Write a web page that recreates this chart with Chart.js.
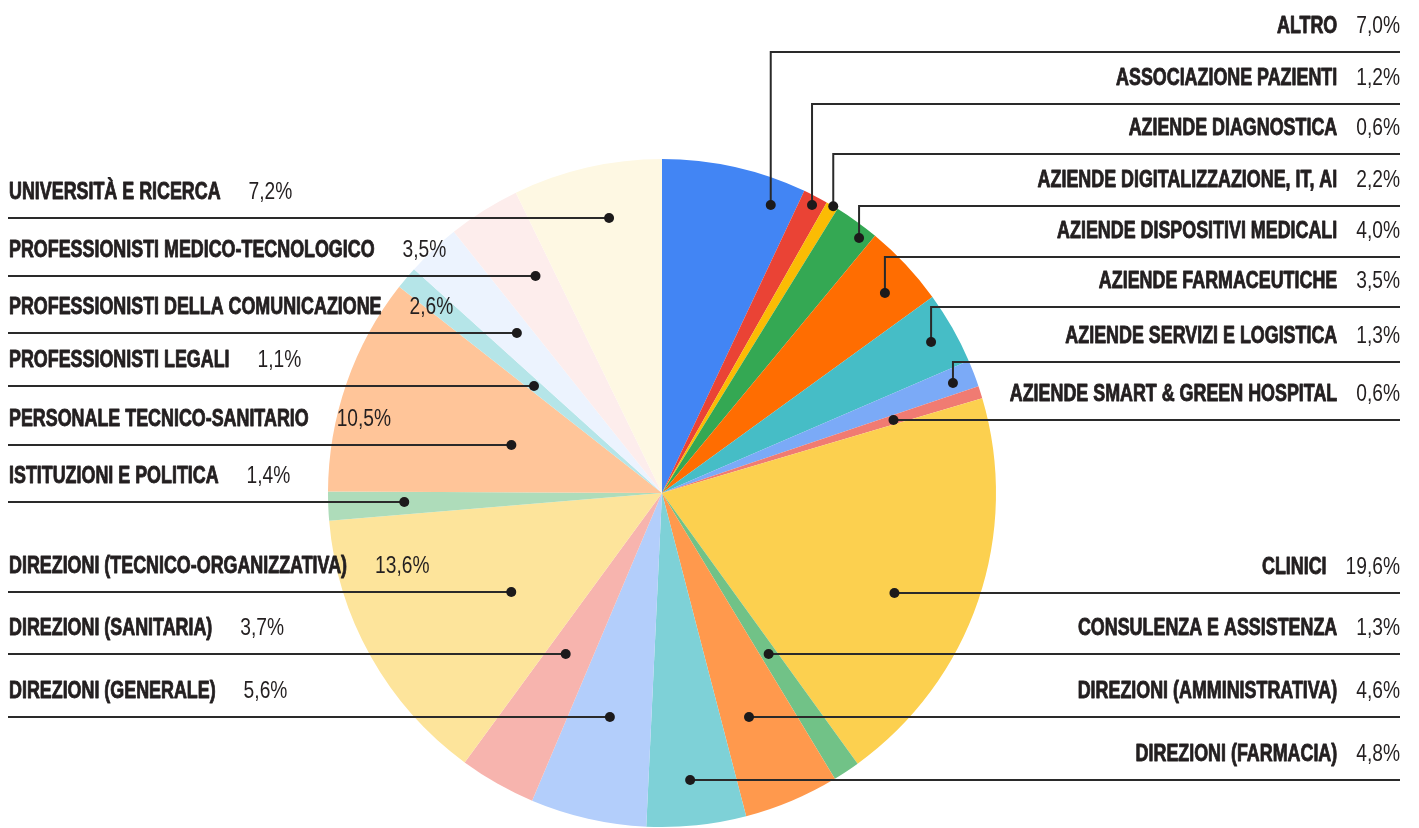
<!DOCTYPE html>
<html lang="it">
<head>
<meta charset="utf-8">
<title>Partecipanti per categoria</title>
<script src="https://cdn.jsdelivr.net/npm/chart.js@4.4.1/dist/chart.umd.min.js"></script>
<style>
  html, body { margin: 0; padding: 0; background: #fff; }
  #wrap { width: 1419px; height: 828px; }
</style>
</head>
<body>
<div id="wrap"><canvas id="chart" width="1419" height="828"></canvas></div>
<script>
/* ---------- dati ---------- */
const categories = [
  'ALTRO',
  'ASSOCIAZIONE PAZIENTI',
  'AZIENDE DIAGNOSTICA',
  'AZIENDE DIGITALIZZAZIONE, IT, AI',
  'AZIENDE DISPOSITIVI MEDICALI',
  'AZIENDE FARMACEUTICHE',
  'AZIENDE SERVIZI E LOGISTICA',
  'AZIENDE SMART & GREEN HOSPITAL',
  'CLINICI',
  'CONSULENZA E ASSISTENZA',
  'DIREZIONI (AMMINISTRATIVA)',
  'DIREZIONI (FARMACIA)',
  'DIREZIONI (GENERALE)',
  'DIREZIONI (SANITARIA)',
  'DIREZIONI (TECNICO-ORGANIZZATIVA)',
  'ISTITUZIONI E POLITICA',
  'PERSONALE TECNICO-SANITARIO',
  'PROFESSIONISTI LEGALI',
  'PROFESSIONISTI DELLA COMUNICAZIONE',
  'PROFESSIONISTI MEDICO-TECNOLOGICO',
  'UNIVERSITÀ E RICERCA'
];
const values = [7.0, 1.2, 0.6, 2.2, 4.0, 3.5, 1.3, 0.6, 19.6, 1.3, 4.6, 4.8, 5.6, 3.7, 13.6, 1.4, 10.5, 1.1, 2.6, 3.5, 7.2];
const colors = [
  '#4285F4', '#EA4335', '#FBBC04', '#34A853', '#FF6D01', '#46BDC6', '#7BAAF7',
  '#F07B72', '#FCD04F', '#71C287', '#FF994D', '#7ED1D7', '#B3CEFB', '#F7B4AE',
  '#FDE49B', '#AEDCBA', '#FFC599', '#B5E5E8', '#ECF3FE', '#FDEDEC', '#FEF8E3'
];

/* ---------- impaginazione etichette ---------- */
// lato, quota della riga, quota del pallino, posizione del pallino nella fetta (0..1)
const labelSide = ['R','R','R','R','R','R','R','R','R','R','R','R','L','L','L','L','L','L','L','L','L'];
const lineY = [52, 104, 154, 206, 257, 307, 362, 420, 593, 654, 717, 780, 717, 654, 592, 502, 445, 386, 333, 276, 218];
const dotY  = [205, 205, 205, 238, 293, 342, 383, 420, 593, 654, 717, 780, 717, 654, 592, 502, 445, 386, 333, 276, 218];
const dotT  = [0.82, 0.53, 0.6, 0.755, 0.587, 0.527, 0.56, 0.53, 0.563, 0.5, 0.6, 0.52, 0.515, 0.6, 0.418, 0.55, 0.46, 0.45, 0.61, 0.66, 0.58];

const LEFT_X = 8;
const RIGHT_X = 1400;
const FONT_FAMILY = '"Liberation Sans", Arial, sans-serif';
const LABEL_FONT = '700 24px ' + FONT_FAMILY;
const PCT_FONT = '400 24px ' + FONT_FAMILY;
const LABEL_SX = 0.745;   // stringe il testo come un carattere condensed
const PCT_SX = 0.8;
const INK = '#231f20';

function fmtPct(v) {
  return v.toFixed(1).replace('.', ',') + '%';
}

// testo compresso in orizzontale; ritorna la larghezza effettiva
function condensedText(ctx, str, x, y, align, font, sx, heavy) {
  ctx.save();
  ctx.font = font;
  ctx.textAlign = align;
  ctx.textBaseline = 'alphabetic';
  ctx.translate(x, y);
  ctx.scale(sx, 1);
  ctx.fillText(str, 0, 0);
  if (heavy) {
    ctx.strokeStyle = ctx.fillStyle;
    ctx.lineWidth = 0.9;
    ctx.lineJoin = 'round';
    ctx.strokeText(str, 0, 0);
  }
  const w = ctx.measureText(str).width * sx;
  ctx.restore();
  return w;
}

/* ---------- etichette con linee guida ---------- */
const leaderLabels = {
  id: 'leaderLabels',
  afterDatasetsDraw(chart) {
    const ctx = chart.ctx;
    const arcs = chart.getDatasetMeta(0).data;
    ctx.save();
    arcs.forEach((arc, i) => {
      const p = arc.getProps(['x', 'y', 'startAngle', 'endAngle', 'outerRadius'], true);
      const a = p.startAngle + (p.endAngle - p.startAngle) * dotT[i];
      // punto sul raggio della fetta alla quota del pallino
      let r = (dotY[i] - p.y) / Math.sin(a);
      if (!isFinite(r) || r < 0) r = p.outerRadius * 0.6;
      r = Math.min(r, p.outerRadius);
      const px = p.x + r * Math.cos(a);
      const py = p.y + r * Math.sin(a);
      const ly = lineY[i];

      ctx.strokeStyle = '#2a2a2a';
      ctx.lineWidth = 2;
      ctx.beginPath();
      ctx.moveTo(px, py);
      if (Math.abs(py - ly) > 1) ctx.lineTo(px, ly);
      ctx.lineTo(labelSide[i] === 'R' ? RIGHT_X : LEFT_X, ly);
      ctx.stroke();

      ctx.fillStyle = '#1c1a1b';
      ctx.beginPath();
      ctx.arc(px, py, 5, 0, Math.PI * 2);
      ctx.fill();

      // testo sopra la riga
      const base = ly - 19;
      const pct = fmtPct(values[i]);
      ctx.fillStyle = INK;
      if (labelSide[i] === 'R') {
        const pw = condensedText(ctx, pct, RIGHT_X, base, 'right', PCT_FONT, PCT_SX, false);
        condensedText(ctx, categories[i], RIGHT_X - pw - 19, base, 'right', LABEL_FONT, LABEL_SX, true);
      } else {
        const lw = condensedText(ctx, categories[i], LEFT_X + 1, base, 'left', LABEL_FONT, LABEL_SX, true);
        condensedText(ctx, pct, LEFT_X + 1 + lw + 28, base, 'left', PCT_FONT, PCT_SX, false);
      }
    });
    ctx.restore();
  }
};

new Chart(document.getElementById('chart'), {
  type: 'pie',
  data: {
    labels: categories,
    datasets: [{
      data: values,
      backgroundColor: colors,
      borderWidth: 0
    }]
  },
  options: {
    responsive: false,
    animation: false,
    layout: { padding: { left: 328, right: 423, top: 159, bottom: 1 } },
    plugins: {
      legend: { display: false },
      tooltip: { enabled: false }
    }
  },
  plugins: [leaderLabels]
});
</script>
</body>
</html>
